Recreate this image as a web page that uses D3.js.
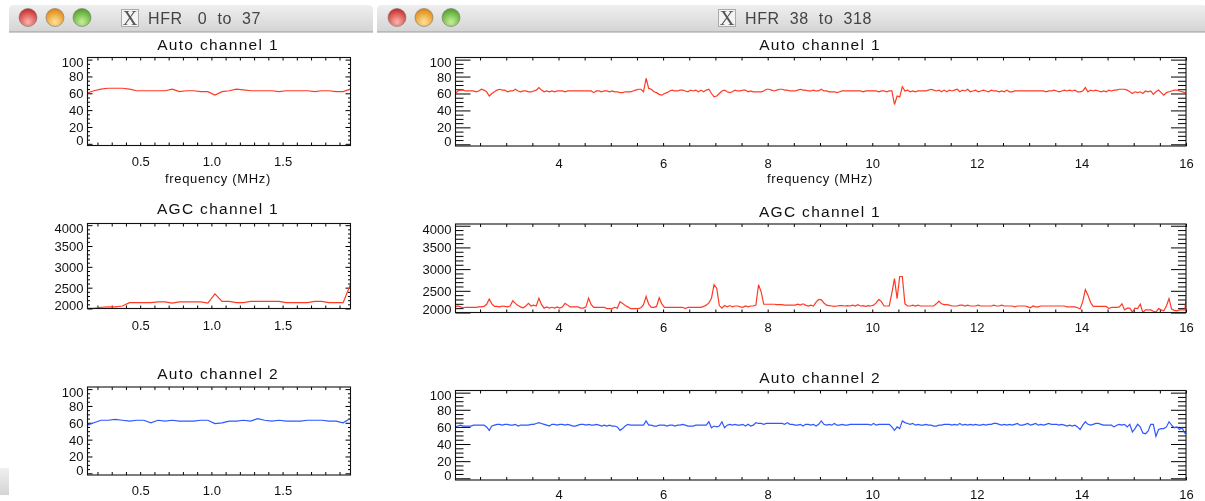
<!DOCTYPE html>
<html><head><meta charset="utf-8">
<script src="https://cdn.jsdelivr.net/npm/d3@7"></script>
<style>
html,body{margin:0;padding:0;background:#fff;overflow:hidden}
svg{display:block;filter:blur(0.4px)}
text{font-family:"Liberation Sans",Arial,sans-serif;fill:#111}
</style></head><body>
<svg id="c" width="1205" height="501"></svg>
<script>
// ---- data ----
const lowStart = 0.125, highStart = 2.025, channelStep = 0.05;
const lowXTicks = [0.5, 1.0, 1.5];
const highXTicks = [4, 6, 8, 10, 12, 14, 16];
const autoYTicks = [0, 20, 40, 60, 80, 100];
const agcYTicks = [2000, 2500, 3000, 3500, 4000];
const windowTitles = ["HFR   0  to  37", "HFR  38  to  318"];
const panelTitles = ["Auto channel 1", "AGC channel 1", "Auto channel 2"];
const xLabel = "frequency (MHz)";

const lowAuto1 = [60,63,65,66,66,66,65,63,63,63,63,63,65,62,63,63,62,62,58,62,63,65,64,63,63,63,63,62,63,63,63,63,62,63,63,62,62,65];
const lowAgc1 = [2005,2005,2030,2040,2040,2060,2140,2140,2140,2140,2160,2160,2130,2160,2160,2160,2160,2130,2350,2170,2170,2140,2140,2170,2170,2170,2170,2170,2140,2140,2140,2140,2170,2170,2140,2140,2140,2565];
const lowAuto2 = [57,60,63,63,64,63,62,63,63,60,63,62,63,62,62,62,63,63,59,60,62,62,63,62,65,63,62,63,62,62,62,63,63,63,62,62,60,65];

const highAuto1 = [
60,63,64,64,63,63,63,63,62,63,65,64,62,57,60,62,64,65,64,64,
62,63,63,65,63,62,63,63,62,62,63,64,67,64,62,63,62,63,62,63,
63,63,62,63,63,63,63,63,63,63,63,63,63,61,63,63,62,63,63,62,
63,62,62,61,61,62,62,62,63,64,65,65,62,78,66,65,62,61,59,58,
60,61,63,64,63,63,64,64,63,62,64,63,64,62,64,62,64,65,60,56,
57,60,63,64,62,61,62,64,63,63,64,64,62,63,62,62,62,62,63,65,
65,64,63,64,65,65,64,64,63,63,63,64,65,64,64,63,63,64,63,63,
65,63,63,62,62,62,61,62,63,63,63,63,63,63,63,63,62,63,63,63,
63,63,62,63,63,62,63,63,47,57,56,68,63,64,62,63,62,63,63,63,
63,64,65,64,63,64,62,64,62,64,63,64,65,62,64,63,65,62,63,64,
62,63,64,63,62,64,63,63,62,63,62,64,62,62,63,63,63,63,63,63,
63,63,63,63,63,63,62,63,63,64,63,62,63,64,63,64,63,64,62,62,
63,67,62,64,63,64,63,62,63,62,64,63,64,64,65,65,65,64,62,60,
62,61,62,60,63,62,63,59,62,64,61,58,61,62,63,64,64,63,62,61,
59];
const highAgc1 = [
2130,2150,2130,2110,2120,2120,2120,2120,2120,2130,2130,2140,2190,2310,2200,2140,2140,2130,2150,2140,
2130,2150,2270,2210,2160,2130,2110,2150,2210,2150,2170,2150,2330,2180,2100,2130,2100,2120,2100,2130,
2100,2130,2210,2170,2130,2130,2130,2130,2100,2100,2130,2330,2180,2120,2120,2120,2120,2120,2090,2090,
2090,2120,2100,2250,2210,2160,2130,2090,2090,2090,2090,2110,2180,2370,2190,2120,2120,2140,2340,2200,
2120,2120,2120,2120,2120,2120,2120,2120,2090,2120,2120,2120,2120,2120,2120,2140,2170,2220,2330,2640,
2560,2160,2100,2160,2130,2160,2130,2150,2150,2130,2120,2150,2130,2150,2150,2170,2640,2480,2190,2190,
2190,2190,2190,2180,2180,2180,2170,2170,2170,2170,2170,2190,2170,2200,2170,2150,2170,2150,2240,2300,
2290,2220,2170,2160,2150,2140,2150,2160,2160,2150,2160,2150,2170,2150,2180,2150,2160,2140,2160,2150,
2170,2220,2300,2250,2150,2150,2150,2450,2780,2320,2830,2830,2200,2150,2150,2170,2150,2170,2150,2150,
2150,2150,2150,2150,2200,2260,2200,2180,2180,2170,2150,2150,2150,2170,2170,2150,2170,2150,2150,2150,
2170,2150,2150,2150,2150,2150,2170,2150,2150,2170,2150,2150,2150,2150,2130,2150,2150,2150,2150,2130,
2110,2150,2130,2130,2150,2150,2150,2150,2150,2150,2150,2150,2150,2150,2130,2130,2130,2130,2110,2080,
2250,2530,2400,2230,2140,2140,2140,2140,2140,2140,2090,2120,2120,2120,2130,2200,2060,2100,2100,2010,
2100,2090,2190,2000,2060,2060,2060,2030,2010,2090,2060,2040,2150,2320,2080,2050,2040,2060,2060,2060,
2530];
const highAuto2 = [
60,61,62,61,61,61,61,62,62,62,62,62,60,56,61,62,63,63,62,63,
63,62,62,63,61,62,62,62,62,63,63,64,65,64,63,62,61,63,63,62,
63,63,62,63,62,61,61,62,63,63,62,63,62,62,63,62,61,62,61,62,
61,61,60,56,58,61,63,62,62,62,62,62,62,67,62,62,61,61,62,62,
62,61,62,62,61,62,62,63,62,61,61,61,62,62,62,62,62,66,59,61,
60,61,66,59,62,63,62,63,62,62,63,61,63,61,62,65,64,64,63,64,
64,64,64,64,64,64,63,65,63,63,62,62,63,61,63,63,62,63,61,63,
67,63,62,63,62,64,62,62,63,62,62,63,63,63,63,63,63,63,63,62,
64,62,63,63,63,63,63,60,56,60,58,67,65,64,63,64,62,63,62,62,
63,62,62,61,61,62,62,63,63,63,62,63,62,64,62,63,62,63,62,63,
62,62,63,62,63,63,64,64,63,62,63,62,63,62,63,64,62,62,63,64,
62,63,64,62,63,62,63,64,63,63,63,62,63,62,61,62,61,62,60,57,
62,66,63,62,63,64,64,63,62,62,62,62,60,62,63,62,63,60,63,54,
58,63,60,53,52,55,63,63,49,57,58,58,60,66,62,59,60,57,59,53,
52];

// ---- layout and style ----
const RED = "#ff3a24", BLUE = "#2f57ff";
const autoDomain = [-2, 102.5], agcDomain = [2000, 4040];
const nudgeAuto = {100: 2.5, 0: -3.5}, nudgeAgc = {4000: 3, 2000: -4};
const columns = [
  {xr:[87.5,350.5], dom:[0.13,1.977], ticks:lowXTicks, fmt:d3.format(".1f"), minor:0.1,
   major:5, minorLen:2.5, cx:218, start:lowStart,
   rows:[
    {top:57.5,bottom:145.5,titleY:50,tickY:166,label:183,v:lowAuto1,c:RED,k:"auto"},
    {top:223.5,bottom:308.5,titleY:214,tickY:330,v:lowAgc1,c:RED,k:"agc"},
    {top:387,bottom:475,titleY:379,tickY:495,v:lowAuto2,c:BLUE,k:"auto"}]},
  {xr:[455.5,1186], dom:[2.03,16], ticks:highXTicks, fmt:d3.format("d"), minor:0.5,
   major:15, minorLen:8, cx:820, start:highStart,
   rows:[
    {top:57.5,bottom:146,titleY:50,tickY:168,label:183,v:highAuto1,c:RED,k:"auto"},
    {top:224,bottom:312.5,titleY:217,tickY:332,v:highAgc1,c:RED,k:"agc"},
    {top:390.5,bottom:480,titleY:383,tickY:499,v:highAuto2,c:BLUE,k:"auto"}]}
];
const windows = [
  {x:9,w:364,lights:[28,55,82],icon:121,title:0},
  {x:377,w:830,lights:[397,424,451],icon:718,title:1}
];

const svg = d3.select("#c");
const defs = svg.append("defs");
const bar = defs.append("linearGradient").attr("id","bar").attr("x1",0).attr("x2",0).attr("y1",0).attr("y2",1);
bar.append("stop").attr("offset",0).attr("stop-color","#efefef");
bar.append("stop").attr("offset",1).attr("stop-color","#d4d4d4");
[["r","#ffb4b0","#c8302c"],["o","#ffe39a","#e08a14"],["g","#c8f09a","#52a42c"]].forEach(([id,a,b])=>{
  const g = defs.append("radialGradient").attr("id",id).attr("cy",0.75).attr("r",0.7);
  g.append("stop").attr("offset",0).attr("stop-color",a);
  g.append("stop").attr("offset",1).attr("stop-color",b);
});

// stray window corner at lower left
svg.append("rect").attr("x",0).attr("y",468).attr("width",9).attr("height",27).attr("fill","url(#bar)");

windows.forEach(w=>{
  const g = svg.append("g");
  g.append("path").attr("fill","url(#bar)")
    .attr("d",`M${w.x},32V10Q${w.x},5 ${w.x+5},5H${w.x+w.w-5}Q${w.x+w.w},5 ${w.x+w.w},10V32Z`);
  g.append("line").attr("x1",w.x).attr("x2",w.x+w.w).attr("y1",32).attr("y2",32).attr("stroke","#9a9a9a");
  ["r","o","g"].forEach((id,i)=>{
    g.append("circle").attr("cx",w.lights[i]).attr("cy",17.5).attr("r",9)
      .attr("fill",`url(#${id})`).attr("stroke","#6f6f6f").attr("stroke-opacity",.55);
  });
  g.append("rect").attr("x",w.icon+.5).attr("y",9.5).attr("width",17).attr("height",17)
    .attr("fill","#f4f4f4").attr("stroke","#aaa");
  g.append("text").attr("x",w.icon+9).attr("y",25).attr("text-anchor","middle")
    .style("font-family","'Liberation Serif',serif").style("font-size","21px").style("fill","#555").text("X");
  g.append("text").attr("x",w.icon+27).attr("y",24).attr("xml:space","preserve")
    .style("white-space","pre").style("font-size","16px").style("letter-spacing","0.6px").style("fill","#444")
    .text(windowTitles[w.title]);
});

function minorValues(lo,hi,step,skip){
  const out=[]; const n=Math.floor((hi-lo)/step+1e-6);
  for(let i=0;i<=n;i++){const v=+(lo+i*step).toFixed(4); if(!skip.includes(v)) out.push(v);}
  return out;
}

columns.forEach(col=>{
  col.rows.forEach((r,ri)=>{
    const x = d3.scaleLinear().domain(col.dom).range(col.xr);
    const isAgc = r.k==="agc";
    const y = d3.scaleLinear().domain(isAgc?agcDomain:autoDomain).range([r.bottom,r.top]);
    const yTicks = isAgc?agcYTicks:autoYTicks;
    const yMinor = isAgc?minorValues(2000,4000,100,agcYTicks):minorValues(0,100,5,autoYTicks);
    const nudge = isAgc?nudgeAgc:nudgeAuto;
    const g = svg.append("g");
    const clipId = `clip${col.cx}${ri}`;
    defs.append("clipPath").attr("id",clipId).append("rect")
      .attr("x",col.xr[0]).attr("y",r.top).attr("width",col.xr[1]-col.xr[0]).attr("height",r.bottom-r.top);

    const xMinor = minorValues(Math.ceil(col.dom[0]/col.minor)*col.minor, col.dom[1], col.minor, []);
    const clean = a=>{a.select(".domain").remove(); a.selectAll("line").attr("stroke","#000").attr("stroke-width",1);};

    // x ticks, inward on both edges
    g.append("g").attr("transform",`translate(0,${r.bottom})`)
      .call(d3.axisBottom(x).tickValues(xMinor).tickSize(-3).tickFormat("")).call(clean);
    g.append("g").attr("transform",`translate(0,${r.top})`)
      .call(d3.axisTop(x).tickValues(xMinor).tickSize(-3).tickFormat("")).call(clean);
    // y ticks, inward on both edges
    g.append("g").attr("transform",`translate(${col.xr[0]},0)`)
      .call(d3.axisLeft(y).tickValues(yMinor).tickSize(-col.minorLen).tickFormat("")).call(clean);
    g.append("g").attr("transform",`translate(${col.xr[1]},0)`)
      .call(d3.axisRight(y).tickValues(yMinor).tickSize(-col.minorLen).tickFormat("")).call(clean);
    g.append("g").attr("transform",`translate(${col.xr[1]},0)`)
      .call(d3.axisRight(y).tickValues(yTicks).tickSize(-col.major).tickFormat("")).call(clean);

    // labelled axes
    const yAxis = g.append("g").attr("transform",`translate(${col.xr[0]},0)`)
      .call(d3.axisLeft(y).tickValues(yTicks).tickSize(-col.major).tickPadding(4).tickFormat(d3.format("d")));
    clean(yAxis);
    yAxis.selectAll("text").style("font-size","13px").style("font-family","'Liberation Sans',sans-serif").attr("fill","#111")
      .attr("x",-4).attr("dy",d=>`${4.5+(nudge[d]||0)}px`);
    const xAxis = g.append("g").attr("transform",`translate(0,${r.bottom})`)
      .call(d3.axisBottom(x).tickValues(col.ticks).tickSize(0).tickFormat(col.fmt));
    clean(xAxis);
    xAxis.selectAll("text").style("font-size","13px").style("font-family","'Liberation Sans',sans-serif").attr("fill","#111")
      .attr("dy",0).attr("y",r.tickY-r.bottom);

    // series
    const line = d3.line().x((d,i)=>x(col.start+i*channelStep)).y(d=>y(d));
    g.append("path").datum(r.v).attr("clip-path",`url(#${clipId})`)
      .attr("fill","none").attr("stroke",r.c).attr("stroke-width",1.2).attr("d",line);

    // frame
    g.append("rect").attr("x",col.xr[0]).attr("y",r.top)
      .attr("width",col.xr[1]-col.xr[0]).attr("height",r.bottom-r.top)
      .attr("fill","none").attr("stroke","#111").attr("stroke-width",1.1);

    // texts
    g.append("text").attr("x",col.cx).attr("y",r.titleY).attr("text-anchor","middle")
      .style("font-size","15.5px").style("letter-spacing","1.3px").text(panelTitles[ri]);
    if(r.label) g.append("text").attr("x",col.cx).attr("y",r.label).attr("text-anchor","middle")
      .style("font-size","13px").style("letter-spacing","0.65px").text(xLabel);
  });
});
</script>
</body></html>
